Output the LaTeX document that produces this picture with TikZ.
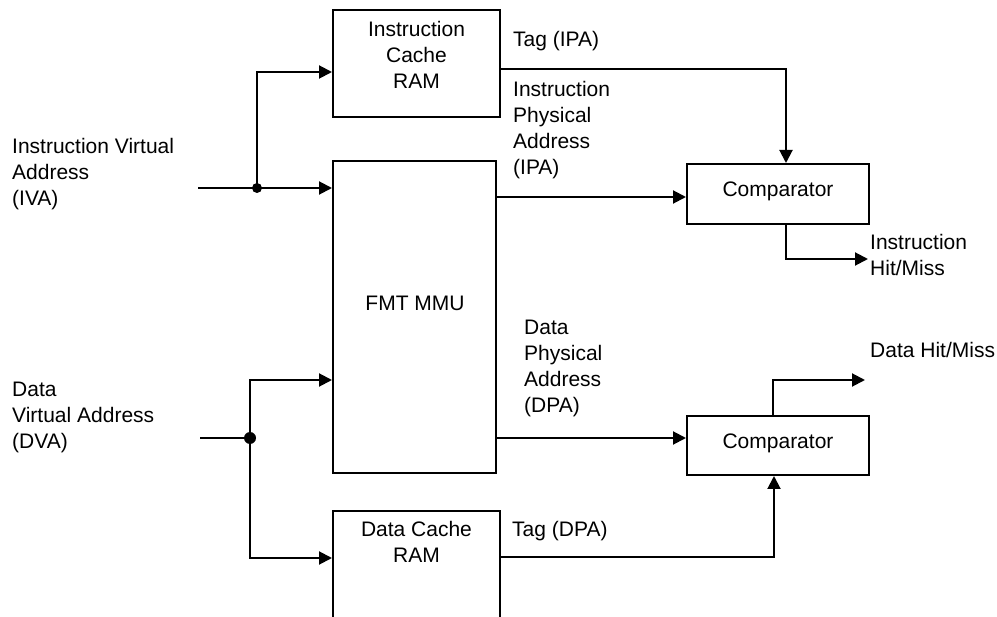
\documentclass[tikz,border=0pt]{standalone}
\usepackage{fontspec}
\setmainfont{Liberation Sans}
\usetikzlibrary{arrows.meta}
\begin{document}
\begin{tikzpicture}[x=1pt,y=-1pt,
  box/.style={draw, line width=2pt, inner sep=0pt},
  arr/.style={-{Triangle[length=13pt,width=13pt]}, line width=2pt},
  wire/.style={line width=2pt},
  lbl/.style={inner sep=0pt, font=\fontsize{21}{26}\selectfont},
]
\useasboundingbox (0,0) rectangle (997,617);
\fill[white] (0,0) rectangle (997,617);
\clip (0,0) rectangle (997,617);

% boxes
\node[box, minimum width=167pt, minimum height=107pt] (icache) at (416.5,63.5) {};
\node[box, minimum width=163pt, minimum height=312pt] (mmu) at (414.5,317) {};
\node[box, minimum width=182pt, minimum height=60pt] (cmp1) at (778,194) {};
\node[box, minimum width=182pt, minimum height=59pt] (cmp2) at (778,445.5) {};
\node[box, minimum width=167pt, minimum height=189pt] (dcache) at (416.5,605.5) {};

% box texts
\node[lbl, anchor=base] (ic1) at (416.5,37) {Instruction};
\node[lbl, anchor=base] (ic2) at (416.5,63) {Cache};
\node[lbl, anchor=base] (ic3) at (416.5,89) {RAM};
\node[lbl, anchor=base] (mmut) at (415,311) {FMT MMU};
\node[lbl, anchor=base] (c1t) at (778,197) {Comparator};
\node[lbl, anchor=base] (c2t) at (778,449) {Comparator};
\node[lbl, anchor=base] (dc1) at (416.5,537) {Data Cache};
\node[lbl, anchor=base] (dc2) at (416.5,563) {RAM};

% free labels
\node[lbl, anchor=base west] (iva1) at (12,154) {Instruction Virtual};
\node[lbl, anchor=base west] (iva2) at (12,180) {Address};
\node[lbl, anchor=base west] (iva3) at (12,206) {(IVA)};
\node[lbl, anchor=base west] (dva1) at (12,397) {Data};
\node[lbl, anchor=base west] (dva2) at (12,423) {Virtual Address};
\node[lbl, anchor=base west] (dva3) at (12,449) {(DVA)};
\node[lbl, anchor=base west] (tagi) at (513,47) {Tag (IPA)};
\node[lbl, anchor=base west] (ipa1) at (513,97) {Instruction};
\node[lbl, anchor=base west] (ipa2) at (513,123) {Physical};
\node[lbl, anchor=base west] (ipa3) at (513,149) {Address};
\node[lbl, anchor=base west] (ipa4) at (513,175) {(IPA)};
\node[lbl, anchor=base west] (dpa1) at (524,335) {Data};
\node[lbl, anchor=base west] (dpa2) at (524,361) {Physical};
\node[lbl, anchor=base west] (dpa3) at (524,387) {Address};
\node[lbl, anchor=base west] (dpa4) at (524,413) {(DPA)};
\node[lbl, anchor=base west] (ihm1) at (870,250) {Instruction};
\node[lbl, anchor=base west] (ihm2) at (870,276) {Hit/Miss};
\node[lbl, anchor=base west] (dhm) at (870,358) {Data Hit/Miss};
\node[lbl, anchor=base west] (tagd) at (512,537) {Tag (DPA)};

% coordinates
\coordinate (iin) at (198,188);
\coordinate (j1) at (257,188);
\coordinate (din) at (200,438);
\coordinate (j2) at (250,438);
\coordinate (ihmend) at (868,259);
\coordinate (dhmend) at (865,380);
\coordinate (c1in) at ([yshift=-3pt]cmp1.west);
\coordinate (c2in) at ([yshift=7.5pt]cmp2.west);

% connectors
\draw[wire] (iin) -- (j1);
\draw[arr] (j1) -- (mmu.west |- j1);
\draw[arr] (j1) |- ([yshift=-8.5pt]icache.west);
\fill (j1) circle (5pt);

\draw[wire] (din) -- (j2);
\draw[arr] (j2) |- ([yshift=-63pt]mmu.west);
\draw[arr] (j2) |- ([yshift=47.5pt]dcache.west);
\fill (j2) circle (6pt);

\draw[arr] ([yshift=-5.5pt]icache.east) -| ([xshift=8pt]cmp1.north);
\draw[arr] (mmu.east |- c1in) -- (c1in);
\draw[arr] ([xshift=8pt]cmp1.south) |- (ihmend);

\draw[arr] (mmu.east |- c2in) -- (c2in);
\draw[arr] ([yshift=48.5pt]dcache.east) -| ([xshift=-4pt]cmp2.south);
\draw[arr] ([xshift=-5pt]cmp2.north) |- (dhmend);
\end{tikzpicture}
\end{document}
